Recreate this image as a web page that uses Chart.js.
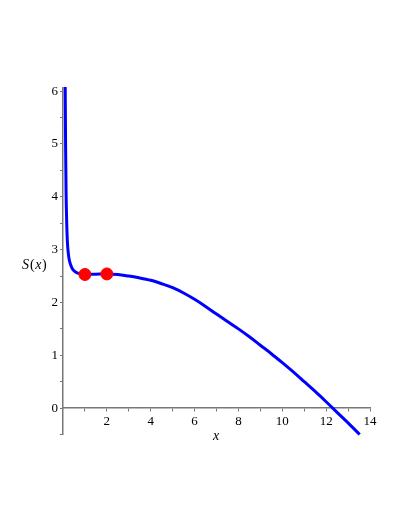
<!DOCTYPE html>
<html>
<head>
<meta charset="utf-8">
<script src="https://cdn.jsdelivr.net/npm/chart.js@4"></script>
<style>
    html, body { margin: 0; padding: 0; background: #fff; }
    #wrap { width: 405px; height: 524px; }
</style>
</head>
<body>
<div id="wrap"><canvas id="plot" width="405" height="524"></canvas></div>
<script>
// curve S(x)
const xValues = [0.1, 0.12, 0.14, 0.17, 0.2, 0.25, 0.3, 0.4, 0.5, 0.7, 1.0, 1.5, 2.0, 2.5, 3.0, 3.5, 4.0, 4.5, 5.0, 5.5, 6.0, 6.5, 7.0, 7.5, 8.0, 8.5, 9.0, 9.5, 10.0, 10.5, 11.0, 11.5, 12.0, 12.3, 12.5, 13.0, 13.53];
const sValues = [6.08, 4.9, 4.1, 3.5, 3.15, 2.9, 2.78, 2.66, 2.6, 2.55, 2.53, 2.535, 2.54, 2.53, 2.5, 2.465, 2.42, 2.355, 2.28, 2.18, 2.06, 1.925, 1.78, 1.64, 1.5, 1.35, 1.19, 1.03, 0.86, 0.685, 0.5, 0.315, 0.12, 0.0, -0.08, -0.28, -0.5];

// marked points
const markX = [1, 2];
const markY = [2.53, 2.54];

// tick labels
const xTickLabels = [2, 4, 6, 8, 10, 12, 14];
const yTickLabels = [0, 1, 2, 3, 4, 5, 6];
const xMinorTicks = [1, 3, 5, 7, 9, 11, 13];
const yMinorTicks = [-0.5, 0.5, 1.5, 2.5, 3.5, 4.5, 5.5];

const serif = '"Liberation Serif", "DejaVu Serif", serif';

const axisTitles = {
    id: 'axisTitles',
    afterDraw(chart) {
        const ctx = chart.ctx;
        ctx.save();
        ctx.fillStyle = '#000';
        ctx.textBaseline = 'middle';
        // y title S(x)
        let x = 22;
        const y = 265;
        const parts = [['S', 'italic'], ['(', 'normal'], ['x', 'italic'], [')', 'normal']];
        parts.forEach(([t, style]) => {
            ctx.font = style + ' 14px ' + serif;
            ctx.fillText(t, x, y);
            x += ctx.measureText(t).width + (t === 'S' ? 1 : 0.5);
        });
        // x title
        ctx.font = 'italic 14px ' + serif;
        ctx.textAlign = 'center';
        ctx.fillText('x', 216, 436);
        ctx.restore();
    }
};

const ctx = document.getElementById('plot').getContext('2d');
new Chart(ctx, {
    type: 'scatter',
    data: {
        datasets: [
            {
                data: markX.map((v, i) => ({ x: v, y: markY[i] })),
                backgroundColor: '#ff0000',
                borderColor: '#ff0000',
                pointRadius: 6,
                showLine: false
            },
            {
                data: xValues.map((v, i) => ({ x: v, y: sValues[i] })),
                showLine: true,
                borderColor: '#0000ff',
                borderWidth: 3,
                pointRadius: 0,
                cubicInterpolationMode: 'monotone',
                clip: 4
            }
        ]
    },
    plugins: [axisTitles],
    options: {
        responsive: false,
        animation: false,
        layout: { padding: { left: 47, right: 35, top: 88, bottom: 90 } },
        plugins: { legend: { display: false }, tooltip: { enabled: false } },
        scales: {
            x: {
                type: 'linear',
                min: 0,
                max: 14,
                position: { y: 0 },
                afterBuildTicks: s => {
                    s.ticks = xTickLabels.concat(xMinorTicks).sort((a, b) => a - b).map(v => ({ value: v }));
                },
                grid: { drawOnChartArea: false, drawTicks: true, tickLength: 3, color: '#777' },
                border: { display: true, color: '#777', width: 1.5 },
                ticks: {
                    autoSkip: false,
                    maxRotation: 0,
                    color: '#000',
                    font: { family: serif, size: 13 },
                    callback: v => xTickLabels.includes(v) ? String(v) : ''
                }
            },
            y: {
                type: 'linear',
                min: -0.49,
                max: 6.06,
                position: 'left',
                afterFit: s => { s.width = 16; },
                afterBuildTicks: s => {
                    s.ticks = yTickLabels.concat(yMinorTicks).sort((a, b) => a - b).map(v => ({ value: v }));
                },
                grid: { drawOnChartArea: false, drawTicks: true, tickLength: 3, color: '#777' },
                border: { display: true, color: '#777', width: 1.5 },
                ticks: {
                    autoSkip: false,
                    padding: 2,
                    color: '#000',
                    font: { family: serif, size: 13 },
                    callback: v => yTickLabels.includes(v) ? String(v) : ''
                }
            }
        }
    }
});
</script>
</body>
</html>
